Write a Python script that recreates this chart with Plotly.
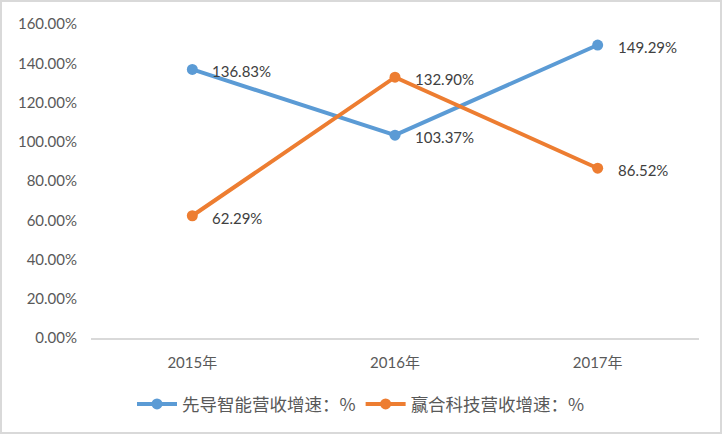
import plotly.graph_objects as go

years = ["2015年", "2016年", "2017年"]
xiandao = [136.83, 103.37, 149.29]
yinghe = [62.29, 132.90, 86.52]
names = ["先导智能营收增速：%", "赢合科技营收增速：%"]
colors = ["#5B9BD5", "#ED7D31"]
yticks = [0, 20, 40, 60, 80, 100, 120, 140, 160]

W, H = 722, 434
ml, mr, mt, mb = 91, 23, 24, 96
pw, ph = W - ml - mr, H - mt - mb


def px_x(x):
    return (x - ml) / pw


def px_y(y):
    return (H - mb - y) / ph


fig = go.Figure()
for vals, name, col in [(xiandao, names[0], colors[0]), (yinghe, names[1], colors[1])]:
    fig.add_trace(go.Scatter(
        x=years, y=vals, name=name, mode="lines+markers",
        line=dict(color=col, width=4),
        marker=dict(color=col, size=11),
    ))
    for x, v in zip(years, vals):
        fig.add_annotation(x=x, y=v, text=f"{v:.2f}%", showarrow=False,
                           xanchor="left", yanchor="middle", xshift=18, yshift=-2,
                           font=dict(family="Lato, sans-serif", size=15, color="#404040"))

# outer frame
fig.add_shape(type="rect", xref="paper", yref="paper",
              x0=px_x(1), x1=px_x(W - 1), y0=px_y(H - 1), y1=px_y(1),
              line=dict(color="#d9d9d9", width=2), layer="below")

fig.update_layout(
    width=W, height=H,
    margin=dict(l=ml, r=mr, t=mt, b=mb, autoexpand=False),
    paper_bgcolor="white", plot_bgcolor="white",
    font=dict(family="Lato, 'Noto Sans CJK SC', sans-serif", color="#595959", size=15),
    xaxis=dict(type="category", range=[-0.5, 2.5], showgrid=False, zeroline=False,
               showline=True, linecolor="#d9d9d9", linewidth=2, ticks="",
               tickfont=dict(size=15, color="#595959"), ticklabelstandoff=10),
    yaxis=dict(range=[0, 160], tickvals=yticks, ticktext=[f"{t:.2f}%" for t in yticks],
               showgrid=False, zeroline=False, showline=False,
               tickfont=dict(size=15, color="#595959"), ticklabelstandoff=13),
    legend=dict(orientation="h", x=px_x(W / 2), xanchor="center", y=px_y(404),
                yanchor="middle", font=dict(family="'Noto Sans CJK SC', sans-serif", size=17.5, color="#595959"),
                itemwidth=40, bgcolor="rgba(0,0,0,0)"),
    showlegend=True,
)
fig.write_html("out.html", config={"displayModeBar": False},
               post_script="document.body.style.margin='0';document.body.style.padding='0';")
